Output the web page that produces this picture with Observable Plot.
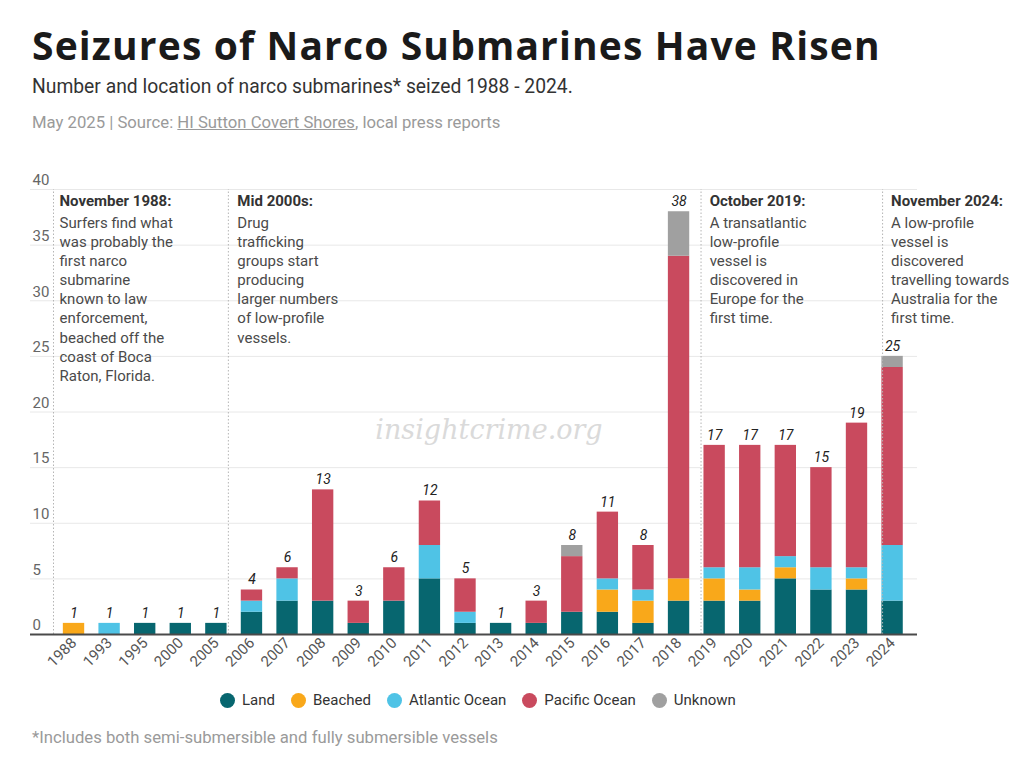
<!DOCTYPE html>
<html>
<head>
<meta charset="utf-8">
<script src="https://cdn.jsdelivr.net/npm/d3@7"></script>
<script src="https://cdn.jsdelivr.net/npm/@observablehq/plot@0.6"></script>
<style>
  body { margin: 0; background: #fff; font-family: Roboto, sans-serif; }
  #wrap { position: relative; width: 1024px; height: 767px; overflow: hidden; background: #fff; }
  #title { position: absolute; left: 32px; top: 21px; line-height: 48px; margin: 0;
           font-family: "Open Sans", Roboto, sans-serif; font-weight: 700; font-size: 39px;
           color: #1a1a1a; white-space: nowrap; letter-spacing: 1.15px; }
  #subtitle { position: absolute; left: 32px; top: 75px; line-height: 24px;
              font-family: Roboto, sans-serif; font-size: 19.3px; color: #333; white-space: nowrap; }
  #source { position: absolute; left: 32px; top: 113px; line-height: 20px;
            font-size: 16.7px; color: #9a9a9a; white-space: nowrap; }
  #source u { text-decoration-color: #9a9a9a; }
  #chart { position: absolute; left: 0; top: 150px; }
  #legend { position: absolute; left: 220px; top: 690px; height: 20px; display: flex; align-items: center;
            font-size: 15px; color: #333; white-space: nowrap; }
  #legend .item { display: flex; align-items: center; margin-right: 16px; }
  #legend .dot { width: 15px; height: 15px; border-radius: 50%; margin-right: 7px; }
  #footer { position: absolute; left: 32px; top: 728px; line-height: 20px; font-size: 16.7px; color: #9a9a9a; white-space: nowrap; }
</style>
</head>
<body>
<div id="wrap">
  <h1 id="title">Seizures of Narco Submarines Have Risen</h1>
  <div id="subtitle">Number and location of narco submarines* seized 1988 - 2024.</div>
  <div id="source">May 2025 | Source: <u>HI Sutton Covert Shores</u>, local press reports</div>
  <div id="chart"></div>
  <div id="legend"></div>
  <div id="footer">*Includes both semi-submersible and fully submersible vessels</div>
</div>
<script>
// ---- Data ----------------------------------------------------------------
const years = ["1988","1993","1995","2000","2005","2006","2007","2008","2009","2010","2011","2012",
               "2013","2014","2015","2016","2017","2018","2019","2020","2021","2022","2023","2024"];
const land     = [0,0,1,1,1,2,3,3,1,3,5,1,1,1,2,2,1,3,3,3,5,4,4,3];
const beached  = [1,0,0,0,0,0,0,0,0,0,0,0,0,0,0,2,2,2,2,1,1,0,1,0];
const atlantic = [0,1,0,0,0,1,2,0,0,0,3,1,0,0,0,1,1,0,1,2,1,2,1,5];
const pacific  = [0,0,0,0,0,1,1,10,2,3,4,3,0,2,5,6,4,29,11,11,10,9,13,16];
const unknown  = [0,0,0,0,0,0,0,0,0,0,0,0,0,0,1,0,0,4,0,0,0,0,0,1];

const seriesNames  = ["Land","Beached","Atlantic Ocean","Pacific Ocean","Unknown"];
const seriesColors = ["#07666f","#f9a81a","#4fc3e6","#c94a5e","#a0a0a0"];
const yTicks = [0,5,10,15,20,25,30,35,40];

const noteYears = ["1988","2005","2019","2024"];
const noteHeads = ["November 1988:","Mid 2000s:","October 2019:","November 2024:"];
const noteBodies = [
  "Surfers find what\nwas probably the\nfirst narco\nsubmarine\nknown to law\nenforcement,\nbeached off the\ncoast of Boca\nRaton, Florida.",
  "Drug\ntrafficking\ngroups start\nproducing\nlarger numbers\nof low-profile\nvessels.",
  "A transatlantic\nlow-profile\nvessel is\ndiscovered in\nEurope for the\nfirst time.",
  "A low-profile\nvessel is\ndiscovered\ntravelling towards\nAustralia for the\nfirst time."
];

// ---- Tables built from the arrays ----------------------------------------
const seriesValues = [land, beached, atlantic, pacific, unknown];
const rows = years.flatMap((year, i) =>
  seriesNames.map((type, k) => ({year, type, count: seriesValues[k][i]}))
).filter(d => d.count > 0);
const totals = years.map((year, i) => ({year, total: d3.sum(seriesValues, v => v[i])}));

// ---- Annotation styling (offsets from the year's band centre) -----------
const ruleShift = [-20.5, 12, -13.6, -10];
const textShift = [-14.5, 21, -5, -1.5];

const noteMarks = noteYears.flatMap((year, i) => [
  Plot.text([{year, v: 40, t: noteHeads[i]}], {
    x: "year", y: "v", text: "t", dx: textShift[i], dy: 5.5, textAnchor: "start", lineAnchor: "top",
    fontSize: 15, fontWeight: "bold", fill: "#333", ariaLabel: "note"
  }),
  Plot.text([{year, v: 40, t: noteBodies[i]}], {
    x: "year", y: "v", text: "t", dx: textShift[i], dy: 24.5, textAnchor: "start", lineAnchor: "top",
    fontSize: 15, lineHeight: 1.278, fill: "#4a4a4a", ariaLabel: "note"
  })
]);

const ruleMarks = noteYears.map((year, i) =>
  Plot.ruleX([year], {y1: 0, y2: 40, dx: ruleShift[i], stroke: "#b5b5b5", strokeWidth: 1, strokeDasharray: "1.5,2"})
);

const chart = Plot.plot({
  width: 1024,
  height: 540,
  marginTop: 39,
  marginBottom: 56,
  marginLeft: 30,
  marginRight: 107,
  style: {fontFamily: "Roboto, sans-serif", fontSize: "14px", background: "#fff"},
  x: {type: "band", domain: years, range: [48.6, 917], padding: 0.4, round: false, label: null},
  y: {domain: [0, 40], label: null},
  color: {domain: seriesNames, range: seriesColors},
  marks: [
    Plot.gridY(yTicks.filter(d => d > 0), {stroke: "#e8e8e8", strokeOpacity: 1}),
    Plot.axisY(yTicks, {tickSize: 0, textAnchor: "start", dx: 11, dy: -9, fontSize: 15, fill: "#666", label: null}),
    Plot.text(["insightcrime.org"], {frameAnchor: "middle", dx: 15, dy: 18.5, fontSize: 27,
      fontStyle: "italic", fontFamily: "DejaVu Serif", fill: "#dadada", ariaLabel: "watermark"}),
    ...noteMarks,
    Plot.barY(rows, {x: "year", y: "count", fill: "type", order: seriesNames}),
    ...ruleMarks,
    Plot.ruleY([0], {stroke: "#4a4a4a", strokeWidth: 2}),
    Plot.axisX({tickRotate: -45, tickSize: 0, tickPadding: 6, fontSize: 15, fill: "#555", label: null}),
    Plot.text(totals, {x: "year", y: "total", text: d => String(d.total), dy: -10,
      fontStyle: "italic", fontSize: 14, fill: "#222"})
  ]
});

document.getElementById("chart").appendChild(chart);

// White panels behind the annotation text so the grid stops at the notes
const svgNS = "http://www.w3.org/2000/svg";
const origin = chart.getBoundingClientRect();
const noteGroups = chart.querySelectorAll('g[aria-label="note"]');
if (noteGroups.length) {
  const panel = document.createElementNS(svgNS, "g");
  chart.insertBefore(panel, noteGroups[0]);
  noteGroups.forEach(g => g.querySelectorAll("text").forEach(t => {
    const b = t.getBoundingClientRect();
    const r = document.createElementNS(svgNS, "rect");
    r.setAttribute("x", b.left - origin.left - 2);
    r.setAttribute("y", b.top - origin.top - 1);
    r.setAttribute("width", b.width + 6);
    r.setAttribute("height", b.height + 2);
    r.setAttribute("fill", "#fff");
    panel.appendChild(r);
  }));
}
chart.querySelectorAll('g[aria-label="watermark"] text').forEach(t => t.setAttribute("letter-spacing", "4.2"));

// Legend
const legend = document.getElementById("legend");
seriesNames.forEach((name, k) => {
  const item = document.createElement("div");
  item.className = "item";
  item.innerHTML = `<span class="dot" style="background:${seriesColors[k]}"></span><span>${name}</span>`;
  legend.appendChild(item);
});
</script>
</body>
</html>
